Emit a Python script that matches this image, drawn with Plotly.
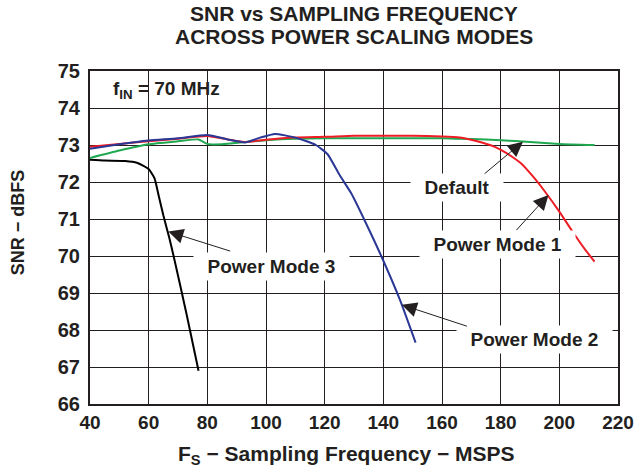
import plotly.graph_objects as go

# ---- data ----
fs_default = [40, 50, 60, 70, 77, 80, 85, 93, 100, 110, 120, 140, 160, 170, 180, 190, 200, 212]
snr_default = [72.65, 72.85, 73.02, 73.1, 73.15, 73.03, 73.02, 73.08, 73.13, 73.17, 73.18, 73.18, 73.18, 73.16, 73.13, 73.08, 73.03, 73.0]

fs_pm1 = [40, 50, 60, 70, 80, 87, 93, 100, 110, 120, 130, 140, 150, 160, 166, 172, 178, 182, 187, 191, 195, 200, 205, 209, 212]
snr_pm1 = [72.95, 73.03, 73.1, 73.17, 73.24, 73.15, 73.08, 73.14, 73.2, 73.22, 73.25, 73.25, 73.25, 73.23, 73.2, 73.1, 72.95, 72.78, 72.5, 72.15, 71.75, 71.2, 70.6, 70.15, 69.85]

fs_pm2 = [40, 50, 60, 70, 80, 87, 93, 98, 103, 110, 117, 121, 125, 129, 134, 139.4, 145.7, 151]
snr_pm2 = [72.9, 73.02, 73.12, 73.18, 73.27, 73.15, 73.07, 73.2, 73.3, 73.2, 73.0, 72.75, 72.2, 71.7, 70.9, 69.98, 68.81, 67.66]

fs_pm3 = [40, 45, 52, 56, 60, 62, 63.5, 65, 67, 68.5, 73, 77]
snr_pm3 = [72.6, 72.58, 72.57, 72.52, 72.35, 72.1, 71.6, 71.1, 70.5, 70.0, 68.4, 66.9]

x_ticks = [40, 60, 80, 100, 120, 140, 160, 180, 200, 220]
y_ticks = [66, 67, 68, 69, 70, 71, 72, 73, 74, 75]

title_lines = ["SNR vs SAMPLING FREQUENCY", "ACROSS POWER SCALING MODES"]
x_title = "F<sub>S</sub> − Sampling Frequency − MSPS"
y_title = "SNR − dBFS"

FONT = "Liberation Sans, Arial, sans-serif"
INK = "#231f20"

fig = go.Figure()
series = [
    (fs_pm3, snr_pm3, "black", "Power Mode 3"),
    (fs_default, snr_default, "#1fa84f", "Default"),
    (fs_pm1, snr_pm1, "#ee1c25", "Power Mode 1"),
    (fs_pm2, snr_pm2, "#2a3795", "Power Mode 2"),
]
for xs, ys, col, name in series:
    fig.add_trace(go.Scatter(x=xs, y=ys, mode="lines", name=name,
                             line=dict(color=col, width=2, shape="spline", smoothing=0.5)))

labels = [
    ("Default", 165.1, 71.84),
    ("Power Mode 1", 178.9, 70.3),
    ("Power Mode 3", 102.0, 69.71),
    ("Power Mode 2", 191.4, 67.73),
]
for txt, x, y in labels:
    fig.add_annotation(x=x, y=y, xref="x", yref="y", text="<b>&nbsp;&nbsp;" + txt + "&nbsp;&nbsp;</b>",
                       showarrow=False, bgcolor="white", borderpad=3,
                       xanchor="center", yanchor="middle",
                       font=dict(family=FONT, size=19, color=INK))

arrows = [
    (187.6, 73.09, 174.0, 72.19),
    (196.3, 71.65, 184.9, 70.66),
    (66.7, 70.66, 88.3, 70.12),
    (146.3, 68.68, 169.0, 68.09),
]
for hx, hy, tx, ty in arrows:
    fig.add_annotation(x=hx, y=hy, ax=tx, ay=ty, xref="x", yref="y", axref="x", ayref="y",
                       text="", showarrow=True, arrowhead=2, arrowsize=3, arrowwidth=1,
                       arrowcolor=INK, standoff=0)

fig.add_annotation(x=47.3, y=74.87, xref="x", yref="y", xanchor="left", yanchor="top",
                   text="<b>f<sub>IN</sub> = 70 MHz</b>", showarrow=False,
                   font=dict(family=FONT, size=19, color=INK))

# chart title (two lines)
fig.add_annotation(x=0.5, y=1.1727, xref="paper", yref="paper", showarrow=False,
                   xanchor="center", yanchor="middle",
                   text="<b>" + title_lines[0] + "</b>", font=dict(family=FONT, size=21, color=INK))
fig.add_annotation(x=0.5, y=1.1036, xref="paper", yref="paper", showarrow=False,
                   xanchor="center", yanchor="middle",
                   text="<b>" + title_lines[1] + "</b>", font=dict(family=FONT, size=21, color=INK))
# axis titles
fig.add_annotation(x=0.485, y=-0.153, xref="paper", yref="paper", showarrow=False,
                   xanchor="center", yanchor="middle",
                   text="<b>" + x_title + "</b>", font=dict(family=FONT, size=21, color=INK))
fig.add_annotation(x=-0.136, y=0.5465, xref="paper", yref="paper", showarrow=False, textangle=-90,
                   xanchor="center", yanchor="middle",
                   text="<b>" + y_title + "</b>", font=dict(family=FONT, size=18, color=INK))

fig.update_layout(
    width=637, height=473, autosize=False,
    margin=dict(l=90, r=19, t=71, b=69, autoexpand=False),
    paper_bgcolor="white", plot_bgcolor="white",
    showlegend=False,
    font=dict(family=FONT, color=INK),
)
fig.update_xaxes(range=[40, 220], tickvals=x_ticks, ticktext=[f"<b>{v}</b>" for v in x_ticks],
                 tickfont=dict(family=FONT, size=19, color=INK), automargin=False,
                 showgrid=True, gridcolor=INK, gridwidth=1,
                 showline=True, linecolor=INK, linewidth=2, mirror=True,
                 zeroline=False, ticks="")
fig.update_yaxes(range=[66, 75], tickvals=y_ticks, ticktext=[f"<b>{v}</b>" for v in y_ticks],
                 tickfont=dict(family=FONT, size=20, color=INK), ticklabelstandoff=4, automargin=False,
                 showgrid=True, gridcolor=INK, gridwidth=1,
                 showline=True, linecolor=INK, linewidth=2, mirror=True,
                 zeroline=False, ticks="")

fig.write_html("out.html", config={"displayModeBar": False, "responsive": False},
               post_script="document.body.style.margin='0';")
